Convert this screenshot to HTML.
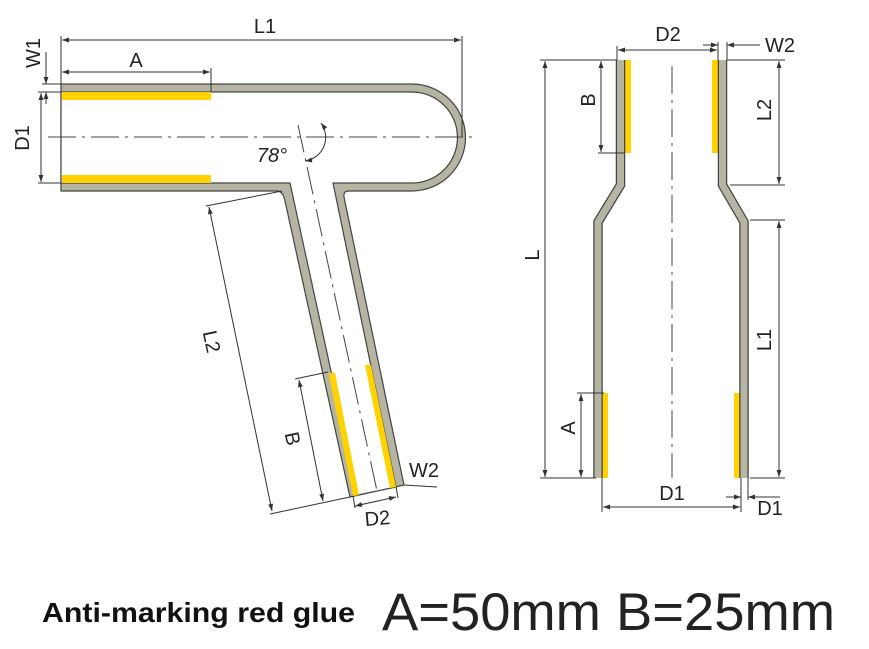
<!DOCTYPE html>
<html><head><meta charset="utf-8"><style>
html,body{margin:0;padding:0;background:#fff;}
svg{display:block;}
text{font-family:"Liberation Sans",sans-serif;fill:#222;}
</style></head><body>
<svg width="869" height="649" viewBox="0 0 869 649" xmlns="http://www.w3.org/2000/svg">
<defs>
<marker id="ar" viewBox="0 0 10 10" refX="10" refY="5" markerWidth="9" markerHeight="7" orient="auto-start-reverse" markerUnits="userSpaceOnUse"><path d="M0,1.5 L10,5 L0,8.5 Z" fill="#333"/></marker>
</defs>
<g stroke="#444" stroke-width="1.2">
<path d="M61,84 H412 A53.5,53.5 0 0 1 412,191 H349 Q343,191 344,197 L404,485 L350,497 L285,201 Q283,191 277,191 H61 Z" fill="#b6b4a2"/>
<path d="M61,92 H412 A45.5,45.5 0 0 1 412,183 H333 L396,487 L358,495 L290,183 H61 Z" fill="#fff"/>
</g>
<g fill="#ffd200">
<rect x="62" y="92" width="149" height="8"/>
<rect x="62" y="175" width="149" height="8"/>
<polygon points="328.5,373 335,373 359,495 353,496"/>
<polygon points="365,365 371,365 396,487 390,488"/>
<rect x="624" y="60" width="7" height="93"/>
<rect x="712" y="60" width="7" height="93"/>
<rect x="602" y="393" width="6" height="85"/>
<rect x="734" y="393" width="7" height="85"/>
</g>
<g fill="none" stroke-linecap="butt" stroke-linejoin="miter">
<polyline points="620.5,60 620.5,185 598,222 598,478" stroke="#444" stroke-width="9.5"/>
<polyline points="620.5,60 620.5,185 598,222 598,478" stroke="#b6b4a2" stroke-width="7"/>
<polyline points="722.5,60 722.5,185 744,222 744,478" stroke="#444" stroke-width="9.5"/>
<polyline points="722.5,60 722.5,185 744,222 744,478" stroke="#b6b4a2" stroke-width="7"/>
</g>
<g stroke="#444" stroke-width="1" stroke-dasharray="28,6,3,6" fill="none">
<line x1="48" y1="137" x2="476" y2="137"/>
<line x1="298" y1="125" x2="377" y2="491"/>
<line x1="672" y1="66" x2="672" y2="478"/>
</g>
<g stroke="#333" stroke-width="1" fill="none">
<line x1="61" y1="36" x2="61" y2="84"/>
<line x1="462" y1="36" x2="462" y2="137"/>
<line x1="62" y1="40" x2="461" y2="40" marker-start="url(#ar)" marker-end="url(#ar)"/>
<line x1="211" y1="68" x2="211" y2="92"/>
<line x1="62" y1="72" x2="210" y2="72" marker-start="url(#ar)" marker-end="url(#ar)"/>
<line x1="42" y1="84" x2="61" y2="84"/>
<line x1="38" y1="92" x2="61" y2="92"/>
<line x1="38" y1="183" x2="61" y2="183"/>
<line x1="46" y1="52" x2="46" y2="84" marker-end="url(#ar)"/>
<line x1="46" y1="104" x2="46" y2="92" marker-end="url(#ar)"/>
<line x1="41" y1="93" x2="41" y2="182" marker-start="url(#ar)" marker-end="url(#ar)"/>
<path d="M321,123 A24,24 0 0 1 305,161" marker-start="url(#ar)" marker-end="url(#ar)"/>
<line x1="206" y1="206" x2="282" y2="191"/>
<line x1="270" y1="514" x2="350" y2="497"/>
<line x1="209" y1="207" x2="272" y2="511" marker-start="url(#ar)" marker-end="url(#ar)"/>
<line x1="295" y1="379" x2="328" y2="372"/>
<line x1="299" y1="380" x2="323" y2="501" marker-start="url(#ar)" marker-end="url(#ar)"/>
<line x1="353" y1="496" x2="355" y2="508"/>
<line x1="396" y1="487" x2="398" y2="498"/>
<line x1="355" y1="506" x2="396" y2="497" marker-start="url(#ar)" marker-end="url(#ar)"/>
<line x1="404" y1="485" x2="437" y2="487"/>
<line x1="540" y1="60" x2="617" y2="60"/>
<line x1="540" y1="478" x2="596" y2="478"/>
<line x1="545" y1="61" x2="545" y2="477" marker-start="url(#ar)" marker-end="url(#ar)"/>
<line x1="598" y1="153" x2="624" y2="153"/>
<line x1="601" y1="61" x2="601" y2="152" marker-start="url(#ar)" marker-end="url(#ar)"/>
<line x1="617" y1="46" x2="617" y2="60"/>
<line x1="718" y1="42" x2="718" y2="60"/>
<line x1="727" y1="42" x2="727" y2="60"/>
<line x1="618" y1="50" x2="717" y2="50" marker-start="url(#ar)" marker-end="url(#ar)"/>
<line x1="703" y1="45" x2="718" y2="45" marker-end="url(#ar)"/>
<line x1="760" y1="45" x2="727" y2="45" marker-end="url(#ar)"/>
<line x1="727" y1="60" x2="785" y2="60"/>
<line x1="730" y1="185" x2="785" y2="185"/>
<line x1="779" y1="61" x2="779" y2="184" marker-start="url(#ar)" marker-end="url(#ar)"/>
<line x1="750" y1="220" x2="785" y2="220"/>
<line x1="750" y1="478" x2="785" y2="478"/>
<line x1="779" y1="221" x2="779" y2="477" marker-start="url(#ar)" marker-end="url(#ar)"/>
<line x1="577" y1="393" x2="604" y2="393"/>
<line x1="581" y1="394" x2="581" y2="477" marker-start="url(#ar)" marker-end="url(#ar)"/>
<line x1="602" y1="478" x2="602" y2="512"/>
<line x1="741" y1="478" x2="741" y2="512"/>
<line x1="748" y1="478" x2="748" y2="500"/>
<line x1="603" y1="507" x2="740" y2="507" marker-start="url(#ar)" marker-end="url(#ar)"/>
<line x1="726" y1="497" x2="741" y2="497" marker-end="url(#ar)"/>
<line x1="780" y1="497" x2="748" y2="497" marker-end="url(#ar)"/>
</g>
<g font-size="20">
<text x="265" y="33" text-anchor="middle">L1</text>
<text x="136" y="67" text-anchor="middle">A</text>
<text transform="translate(40,53) rotate(-90)" text-anchor="middle">W1</text>
<text transform="translate(29,138) rotate(-90)" text-anchor="middle">D1</text>
<text x="272" y="162" text-anchor="middle" font-style="italic">78°</text>
<text transform="translate(205,343) rotate(78)" text-anchor="middle">L2</text>
<text transform="translate(286,440) rotate(78)" text-anchor="middle">B</text>
<text x="378" y="525" text-anchor="middle" transform="rotate(-5 378 525)">D2</text>
<text x="424" y="477" text-anchor="middle">W2</text>
<text transform="translate(539,255) rotate(-90)" text-anchor="middle">L</text>
<text transform="translate(595,100) rotate(-90)" text-anchor="middle">B</text>
<text x="668" y="41" text-anchor="middle">D2</text>
<text x="780" y="52" text-anchor="middle">W2</text>
<text transform="translate(771,110) rotate(-90)" text-anchor="middle">L2</text>
<text transform="translate(771,340) rotate(-90)" text-anchor="middle">L1</text>
<text transform="translate(575,428) rotate(-90)" text-anchor="middle">A</text>
<text x="672" y="500" text-anchor="middle">D1</text>
<text x="770" y="515" text-anchor="middle">D1</text>
</g>
<text x="42" y="622" font-size="28" font-weight="bold" textLength="313" lengthAdjust="spacingAndGlyphs" style="fill:#111">Anti-marking red glue</text>
<text x="382" y="630" font-size="53" textLength="453" lengthAdjust="spacingAndGlyphs" style="fill:#222">A=50mm B=25mm</text>
</svg>
</body></html>
